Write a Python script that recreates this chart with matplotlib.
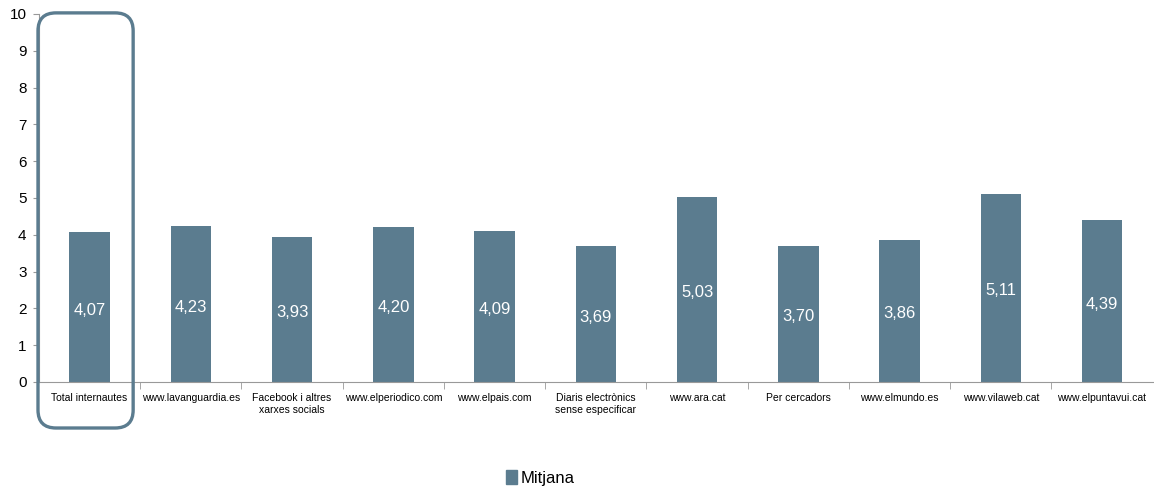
import matplotlib.pyplot as plt
from matplotlib.patches import FancyBboxPatch, Patch

categories = ['Total internautes', 'www.lavanguardia.es', 'Facebook i altres\nxarxes socials',
              'www.elperiodico.com', 'www.elpais.com', 'Diaris electrònics\nsense especificar',
              'www.ara.cat', 'Per cercadors', 'www.elmundo.es', 'www.vilaweb.cat',
              'www.elpuntavui.cat']
mitjana = [4.07, 4.23, 3.93, 4.20, 4.09, 3.69, 5.03, 3.70, 3.86, 5.11, 4.39]

bar_color = '#5b7c8f'
plt.rcParams['font.family'] = ['Liberation Sans', 'DejaVu Sans']

fig = plt.figure(figsize=(11.54, 4.91), dpi=100)
ax = fig.add_axes([0.0338, 0.222, 0.965, 0.7495])

x = range(len(categories))
bars = ax.bar(x, mitjana, width=0.4, color=bar_color)
for i, v in enumerate(mitjana):
    ax.text(i, v / 2 - 0.08, f'{v:.2f}'.replace('.', ','), ha='center', va='center',
            color='white', fontsize=12)

ax.set_xlim(-0.5, len(categories) - 0.5)
ax.set_ylim(0, 10)
ax.set_yticks(range(0, 11))
ax.tick_params(axis='y', labelsize=11, length=4, color='#999999', pad=5)

# category labels centered, tick marks at category boundaries
ax.set_xticks(list(x))
ax.set_xticklabels(categories, fontsize=7.5)
ax.tick_params(axis='x', length=0, pad=8)
ax.set_xticks([i + 0.5 for i in range(len(categories) - 1)], minor=True)
ax.tick_params(axis='x', which='minor', length=5, color='#999999', direction='out')

for s in ['top', 'right']:
    ax.spines[s].set_visible(False)
for s in ['left', 'bottom']:
    ax.spines[s].set_color('#999999')

# rounded highlight around first category
fig.canvas.draw()
x0, y0 = ax.transData.transform((-0.51, -1.25))
x1, y1 = ax.transData.transform((0.43, 10.03))
box = FancyBboxPatch((x0, y0), x1 - x0, y1 - y0, boxstyle='round,pad=0,rounding_size=18',
                     fill=False, edgecolor=bar_color, linewidth=2.4, transform=None,
                     clip_on=False)
fig.patches.append(box)

fig.legend(handles=[Patch(color=bar_color, label='Mitjana')], loc='center',
           bbox_to_anchor=(0.468, 0.027), frameon=False, fontsize=12,
           handlelength=0.7, handleheight=0.9, handletextpad=0.2)

fig.savefig('out.png', dpi=100)
